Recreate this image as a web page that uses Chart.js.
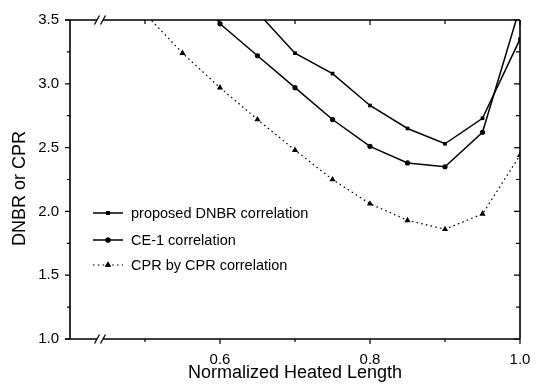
<!DOCTYPE html>
<html><head><meta charset="utf-8">
<script src="https://cdn.jsdelivr.net/npm/chart.js@4/dist/chart.umd.min.js"></script>
<style>html,body{margin:0;padding:0;background:#fff}#wrap{width:544px;height:384px}</style>
</head><body><div id="wrap"><canvas id="c" width="544" height="384"></canvas></div>
<script>
const xValues = [0.5, 0.55, 0.6, 0.65, 0.7, 0.75, 0.8, 0.85, 0.9, 0.95, 1.0];
const proposedDNBR = [null, null, null, 3.56, 3.24, 3.08, 2.83, 2.65, 2.53, 2.73, 3.35];
const ce1Values = [null, 3.9, 3.47, 3.22, 2.97, 2.72, 2.51, 2.38, 2.35, 2.62, 3.6];
const cprValues = [3.55, 3.24, 2.97, 2.72, 2.48, 2.25, 2.06, 1.93, 1.86, 1.98, 2.44];
const seriesNames = ['proposed DNBR correlation', 'CE-1 correlation', 'CPR by CPR correlation'];
const yTickValues = [1.0, 1.5, 2.0, 2.5, 3.0, 3.5];
const xTickLabels = [0.6, 0.8, 1.0];
const xTickMinor = [0.5, 0.7, 0.9];
const xTitle = 'Normalized Heated Length';
const yTitle = 'DNBR or CPR';

const FONT = '"Liberation Sans", Arial, sans-serif';
const toPts = arr => xValues.map((x, i) => ({x: x, y: arr[i]}));

const styles = [
  {pointStyle: 'rect', radius: 2.6, dash: [], width: 1.5},
  {pointStyle: 'circle', radius: 2.6, dash: [], width: 1.5},
  {pointStyle: 'triangle', radius: 3.6, dash: [1.6, 3.2], width: 1.2}
];
const seriesData = [proposedDNBR, ce1Values, cprValues];

const datasets = seriesData.map((d, i) => ({
  label: seriesNames[i],
  data: toPts(d),
  borderColor: '#000',
  backgroundColor: '#000',
  borderWidth: styles[i].width,
  borderDash: styles[i].dash,
  pointStyle: styles[i].pointStyle,
  pointRadius: styles[i].radius,
  pointBorderWidth: 0,
  pointBackgroundColor: '#000',
  tension: 0,
  spanGaps: false,
  clip: 0
}));

const frame = {
  id: 'frame',
  afterDatasetsDraw(chart) {
    const ctx = chart.ctx;
    const a = chart.chartArea;
    const xs = chart.scales.x, ys = chart.scales.y;
    ctx.save();
    ctx.strokeStyle = '#000';
    ctx.fillStyle = '#000';
    ctx.lineWidth = 1.6;
    ctx.lineCap = 'butt';
    const brk = a.left + 30;
    // left & right axes
    ctx.beginPath();
    ctx.moveTo(a.left, a.top); ctx.lineTo(a.left, a.bottom);
    ctx.moveTo(a.right, a.top); ctx.lineTo(a.right, a.bottom);
    // top & bottom with breaks
    [a.top, a.bottom].forEach(y => {
      ctx.moveTo(a.left - 5, y); ctx.lineTo(brk - 3, y);
      ctx.moveTo(brk + 3, y); ctx.lineTo(a.right, y);
    });
    ctx.stroke();
    ctx.lineWidth = 1.3;
    ctx.beginPath();
    [a.top, a.bottom].forEach(y => {
      [-3, 3].forEach(o => {
        ctx.moveTo(brk + o - 2.5, y + 4.5);
        ctx.lineTo(brk + o + 2.5, y - 4.5);
      });
    });
    ctx.stroke();
    // ticks
    ctx.lineWidth = 1.2;
    ctx.beginPath();
    const yAll = [];
    yTickValues.forEach((v, i) => {
      yAll.push([v, true]);
      if (i < yTickValues.length - 1) yAll.push([(v + yTickValues[i + 1]) / 2, false]);
    });
    yAll.forEach(([v, major]) => {
      const y = ys.getPixelForValue(v);
      ctx.moveTo(a.left, y); ctx.lineTo(a.left - (major ? 5 : 3), y);
      ctx.moveTo(a.right, y); ctx.lineTo(a.right - (major ? 6 : 4), y);
    });
    xTickLabels.concat(xTickMinor).forEach(v => {
      const major = xTickLabels.includes(v);
      const x = xs.getPixelForValue(v);
      ctx.moveTo(x, a.bottom); ctx.lineTo(x, a.bottom + (major ? 5 : 3));
      ctx.moveTo(x, a.top); ctx.lineTo(x, a.top + (major ? 5 : 4));
    });
    ctx.stroke();
    // legend
    const rows = [a.bottom - 126, a.bottom - 99, a.bottom - 74];
    ctx.font = '14.5px ' + FONT;
    ctx.textBaseline = 'middle';
    ctx.textAlign = 'left';
    rows.forEach((y, i) => {
      const s = styles[i];
      ctx.save();
      ctx.lineWidth = s.width;
      ctx.setLineDash(s.dash);
      ctx.beginPath();
      ctx.moveTo(a.left + 23, y); ctx.lineTo(a.left + 53, y);
      ctx.stroke();
      ctx.restore();
      Chart.helpers.drawPoint(ctx, {pointStyle: s.pointStyle, radius: s.radius, borderWidth: 0}, a.left + 38, y);
      ctx.fill();
      ctx.fillText(seriesNames[i], a.left + 61, y + 1);
    });
    // y title
    ctx.save();
    ctx.font = '18px ' + FONT;
    ctx.textAlign = 'center';
    ctx.textBaseline = 'middle';
    ctx.translate(20, (a.top + a.bottom) / 2 + 9);
    ctx.rotate(-Math.PI / 2);
    ctx.fillText(yTitle, 0, 0);
    ctx.restore();
    ctx.restore();
  }
};

new Chart(document.getElementById('c'), {
  type: 'line',
  data: {datasets},
  options: {
    responsive: false,
    devicePixelRatio: 1,
    animation: false,
    layout: {padding: {top: 16, right: 24, left: 0, bottom: 0}},
    plugins: {legend: {display: false}, tooltip: {enabled: false}},
    scales: {
      x: {
        type: 'linear', min: 0.4, max: 1.0,
        grid: {display: false, drawTicks: false},
        border: {display: false},
        ticks: {
          stepSize: 0.1, autoSkip: false, maxRotation: 0,
          padding: 12, color: '#000', font: {size: 15, family: FONT},
          callback: v => xTickLabels.some(t => Math.abs(t - v) < 1e-6) ? v.toFixed(1) : ''
        },
        title: {display: true, text: xTitle, color: '#000', font: {size: 18, family: FONT}, padding: {top: 0, bottom: 0}},
        afterFit: s => { s.height = 45; }
      },
      y: {
        min: 1.0, max: 3.5,
        grid: {display: false, drawTicks: false},
        border: {display: false},
        ticks: {
          stepSize: 0.5, padding: 11, color: '#000', font: {size: 15, family: FONT},
          callback: v => v.toFixed(1)
        },
        afterFit: s => { s.width = 70; }
      }
    }
  },
  plugins: [frame]
});
</script></body></html>
